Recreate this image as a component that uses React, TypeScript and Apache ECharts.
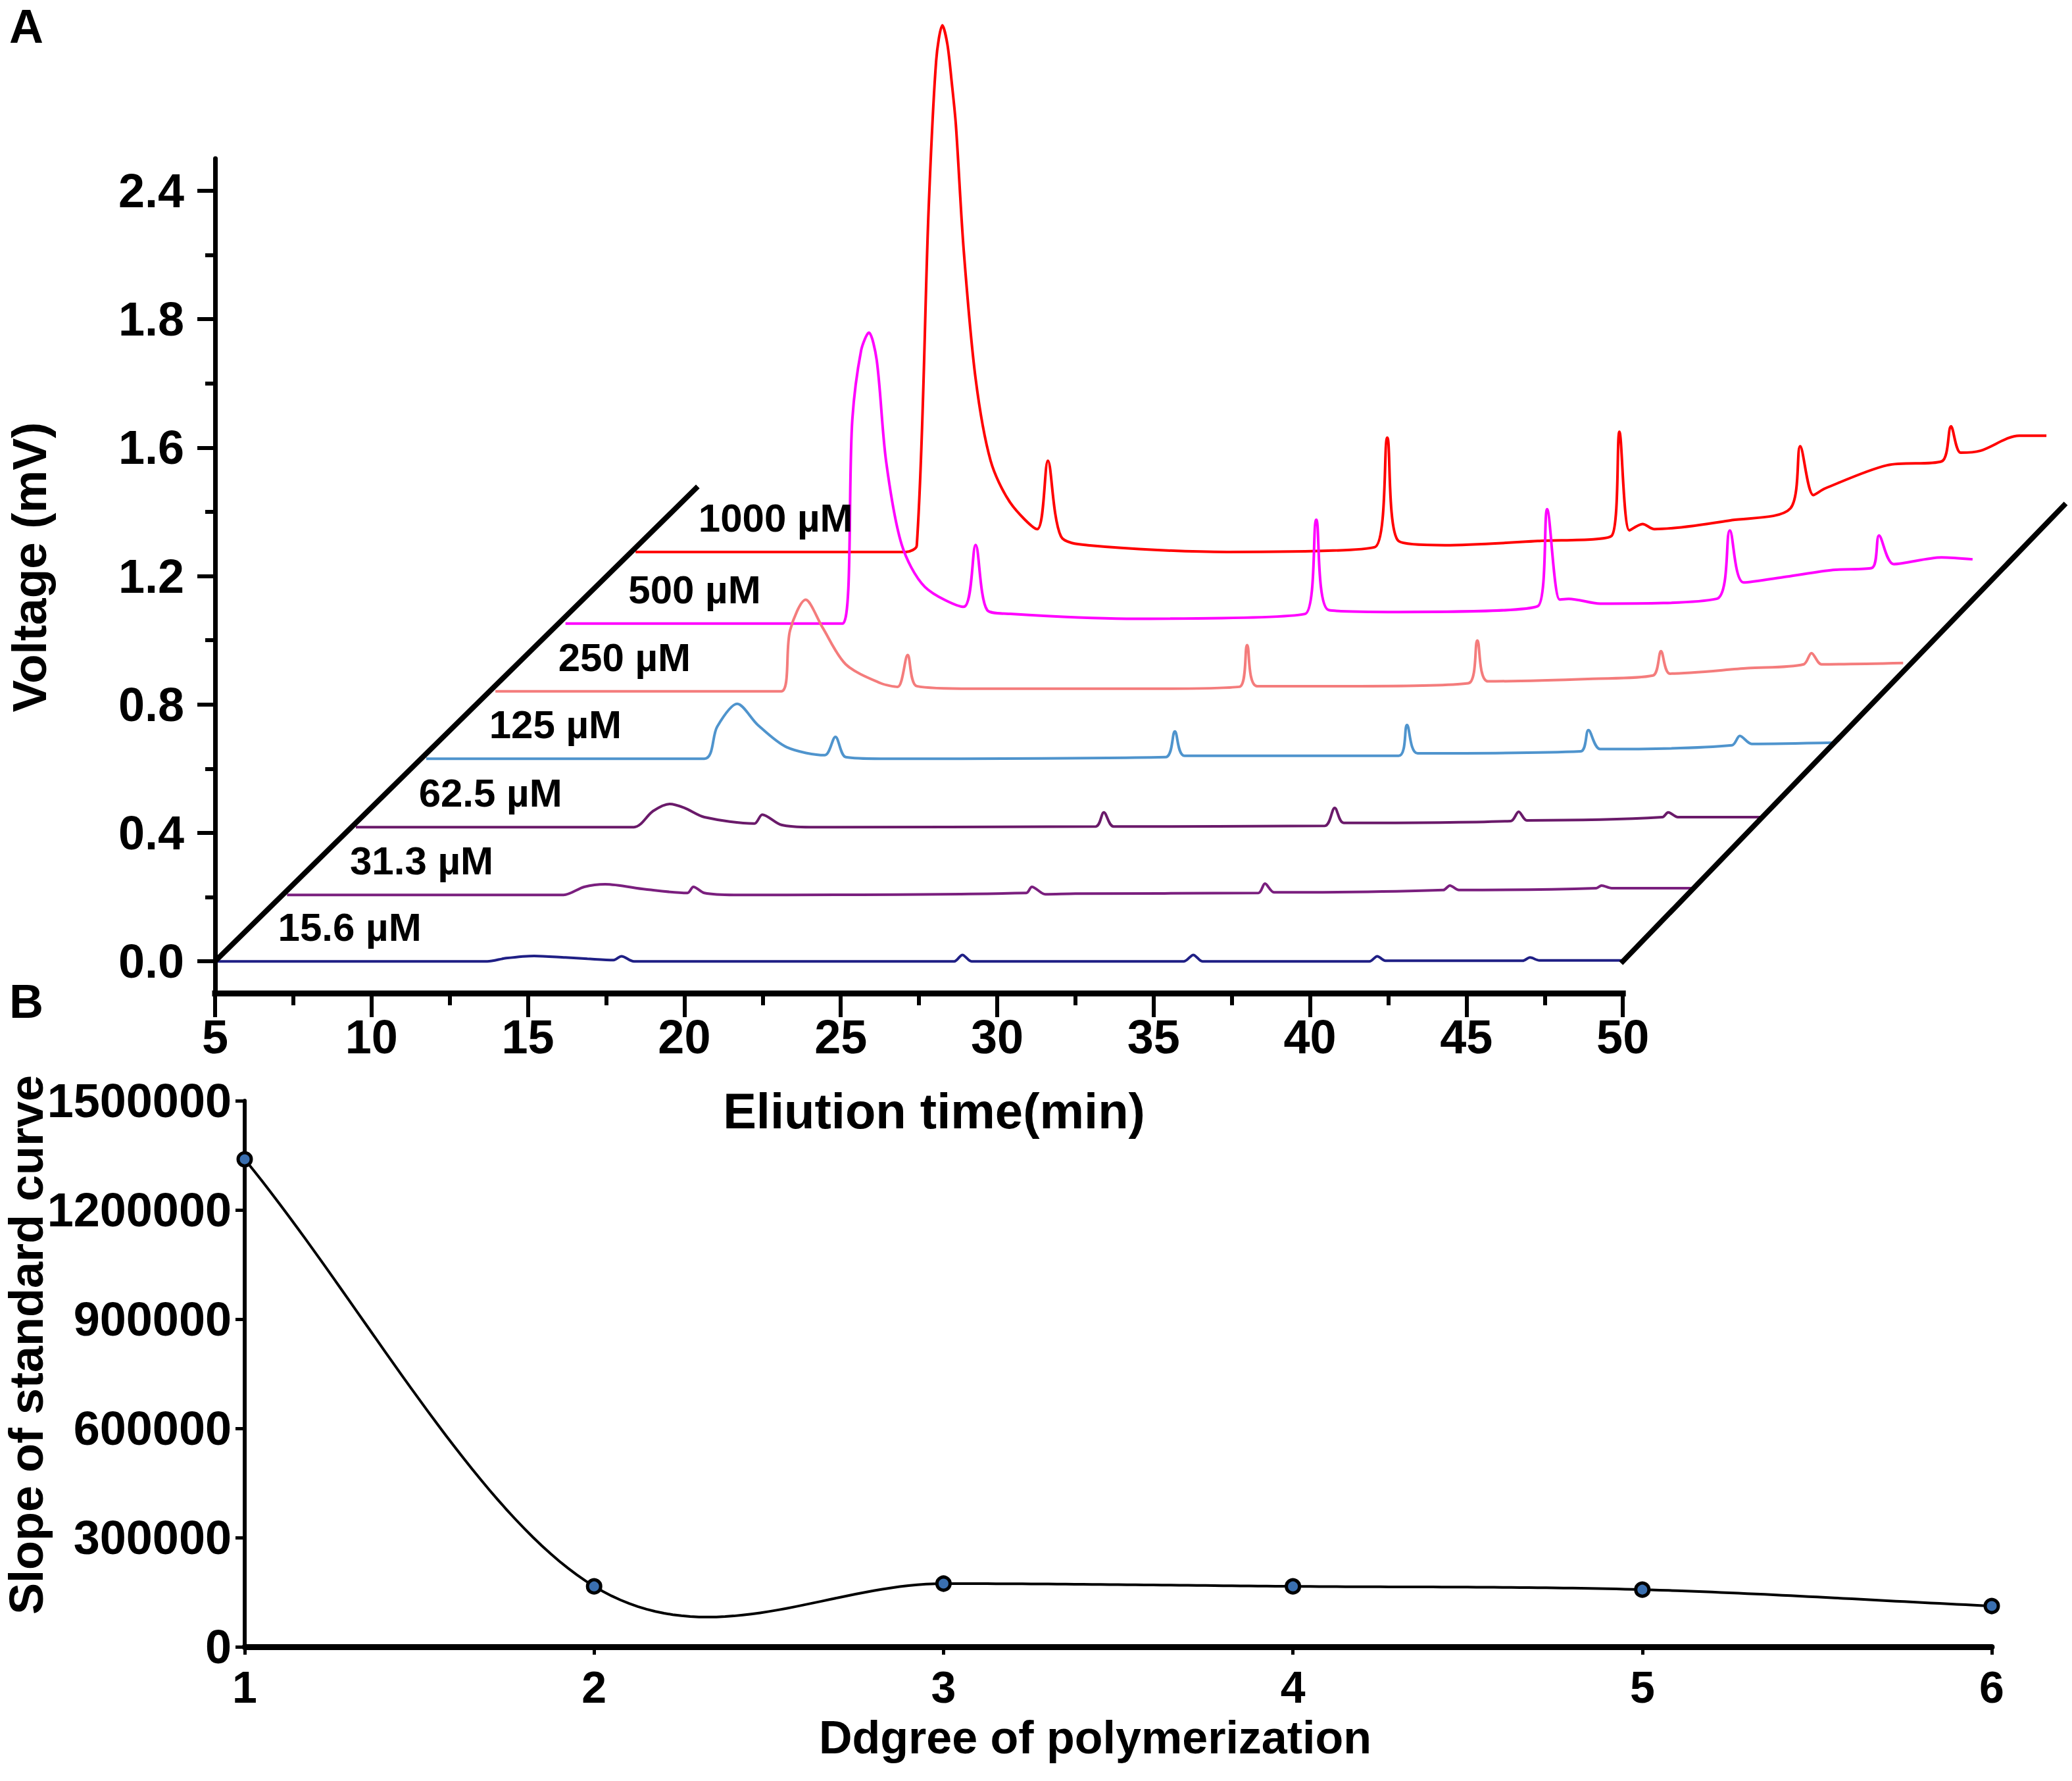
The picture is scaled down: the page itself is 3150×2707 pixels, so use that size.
import React, { useEffect, useRef } from "react";
import * as echarts from "echarts";

// ---------- Panel A data (own elution time, voltage above each trace's baseline) ----------
const seriesNames = ["15.6 µM", "31.3 µM", "62.5 µM", "125 µM", "250 µM", "500 µM", "1000 µM"];
const seriesColors = ["#1f1f85", "#7a1f7e", "#6a1a6a", "#4f94cd", "#f47c7c", "#ff00ff", "#ff0000"];
// waterfall offsets (pseudo-3D depth) per trace
const xShift = [0, 2.3, 4.5, 6.75, 8.96, 11.2, 13.44];
const yBase = [0, 0.207, 0.418, 0.631, 0.841, 1.052, 1.275];

const trace156 = [
  [5, 0], [13.7, 0], [14.3, 0.01], [15.2, 0.017], [16.2, 0.012], [16.9, 0.008], [17.74, 0.004], [17.99, 0.016],
  [18.39, 0], [28.4, 0], [28.63, 0], [28.89, 0.02], [29.18, 0], [35.97, 0], [36.27, 0.02], [36.56, 0],
  [41.9, 0], [42.15, 0.016], [42.41, 0.002], [46.8, 0.002], [47.03, 0.012], [47.33, 0.003], [50, 0.003],
];
const trace313 = [
  [5, 0], [13.84, 0], [14.5, 0.025], [15.17, 0.033], [16.47, 0.017], [17.8, 0.006], [17.99, 0.025], [18.34, 0.006],
  [19.29, 0], [28.63, 0.006], [28.81, 0.025], [29.24, 0.002], [30.2, 0.004], [36.05, 0.006], [36.26, 0.035],
  [36.55, 0.008], [41.96, 0.015], [42.17, 0.029], [42.46, 0.015], [46.85, 0.021], [47.02, 0.029], [47.34, 0.021],
  [50, 0.021],
];
const trace625 = [
  [5, 0], [13.89, 0], [14.5, 0.05], [15.03, 0.072], [15.5, 0.06], [16.14, 0.031], [17.74, 0.011], [17.99, 0.039],
  [18.6, 0.007], [19.53, 0], [28.65, 0.002], [28.91, 0.046], [29.22, 0.002], [35.97, 0.004], [36.29, 0.06],
  [36.58, 0.013], [41.92, 0.019], [42.17, 0.048], [42.43, 0.021], [46.76, 0.031], [46.95, 0.046], [47.26, 0.031],
  [50, 0.031],
];
const trace125 = [
  [5, 0], [13.89, 0], [14.3, 0.1], [14.94, 0.171], [15.6, 0.105], [16.52, 0.036], [17.74, 0.011], [18.08, 0.068],
  [18.41, 0.005], [19.53, 0], [28.63, 0.005], [28.93, 0.085], [29.24, 0.009], [36.08, 0.009], [36.35, 0.105],
  [36.69, 0.017], [41.9, 0.023], [42.15, 0.089], [42.53, 0.03], [46.74, 0.042], [46.99, 0.071], [47.37, 0.046],
  [50, 0.05],
];
const trace250 = [
  [5, 0], [14.14, 0], [14.42, 0.19], [14.92, 0.285], [15.45, 0.2], [16.2, 0.084], [17.32, 0.025], [17.86, 0.014],
  [18.18, 0.113], [18.47, 0.016], [20.22, 0.008], [25.92, 0.008], [28.78, 0.014], [29.03, 0.144], [29.35, 0.016],
  [32.63, 0.016], [36.1, 0.025], [36.39, 0.158], [36.73, 0.031], [40.07, 0.039], [42.0, 0.049], [42.26, 0.125],
  [42.55, 0.055], [45.03, 0.072], [46.82, 0.084], [47.07, 0.119], [47.39, 0.084], [50, 0.088],
];
const trace500 = [
  [5, 0], [13.86, 0], [14.17, 0.636], [14.45, 0.85], [14.7, 0.906], [14.95, 0.82], [15.25, 0.505], [15.75, 0.245],
  [16.49, 0.114], [17.73, 0.052], [18.11, 0.245], [18.48, 0.042], [19.22, 0.03], [22.94, 0.015], [28.64, 0.03],
  [29.0, 0.323], [29.4, 0.042], [31.63, 0.036], [36.08, 0.054], [36.38, 0.356], [36.78, 0.075], [37.07, 0.077],
  [38.08, 0.062], [41.8, 0.077], [42.22, 0.29], [42.66, 0.128], [44.03, 0.146], [45.52, 0.167], [46.76, 0.173],
  [46.99, 0.274], [47.46, 0.185], [48.99, 0.206], [49.98, 0.2],
];
const trace1000 = [
  [5, 0], [13.64, 0], [13.99, 0.02], [14.37, 1.07], [14.61, 1.53], [14.81, 1.64], [14.97, 1.58], [15.11, 1.46],
  [15.24, 1.33], [15.49, 0.94], [15.87, 0.54], [16.35, 0.284], [16.98, 0.153], [17.84, 0.071], [18.18, 0.284],
  [18.6, 0.048], [19.46, 0.021], [23.92, 0.0], [28.63, 0.015], [29.03, 0.356], [29.39, 0.034], [30.88, 0.021],
  [33.84, 0.034], [36.2, 0.05], [36.45, 0.374], [36.77, 0.067], [37.19, 0.087], [37.57, 0.071], [40.05, 0.099],
  [41.92, 0.136], [42.23, 0.329], [42.65, 0.177], [43.03, 0.198], [45.01, 0.27], [46.75, 0.282], [47.05, 0.391],
  [47.36, 0.309], [47.99, 0.315], [49.23, 0.362], [50.1, 0.362],
];
const traces = [trace156, trace313, trace625, trace125, trace250, trace500, trace1000];
// where each trace's name sits (own time, height above baseline)
const labelAnchor = [7.0, 0.105];
// depth guide lines of the pseudo-3D frame
const leftDiagonal = [[5, 0], [20.37, 1.473]];
const rightDiagonal = [[50, 0], [64.1, 1.42]];

// x axis (elution time) ticks
const xAxisSpan = [5, 50];
const xTickValues = [5, 10, 15, 20, 25, 30, 35, 40, 45, 50];
const xMinorValues = [7.5, 12.5, 17.5, 22.5, 27.5, 32.5, 37.5, 42.5, 47.5];
// y axis (voltage) ticks, labels as printed
const yTickValues = [0, 0.4, 0.8, 1.2, 1.6, 2.0, 2.4];
const yTickLabels = ["0.0", "0.4", "0.8", "1.2", "1.6", "1.8", "2.4"];
const yMinorValues = [0.2, 0.6, 1.0, 1.4, 1.8, 2.2];

// ---------- Panel B data ----------
const dpDegree = [1, 2, 3, 4, 5, 6];
const dpSlope = [1339000, 166000, 173500, 166000, 157000, 112000];

const FONT = "'Liberation Sans', Arial, Helvetica, sans-serif";

function splinePoints(xs: number[], ys: number[], samples: number) {
  const n = xs.length;
  const m: number[] = [];
  for (let i = 0; i < n; i++) {
    if (i === 0) m.push((ys[1] - ys[0]) / (xs[1] - xs[0]));
    else if (i === n - 1) m.push((ys[n - 1] - ys[n - 2]) / (xs[n - 1] - xs[n - 2]));
    else m.push((ys[i + 1] - ys[i - 1]) / (xs[i + 1] - xs[i - 1]));
  }
  const out: number[][] = [];
  for (let i = 0; i < n - 1; i++) {
    const h = xs[i + 1] - xs[i];
    for (let s = 0; s <= samples; s++) {
      if (i > 0 && s === 0) continue;
      const t = s / samples;
      const t2 = t * t, t3 = t2 * t;
      const h00 = 2 * t3 - 3 * t2 + 1, h10 = t3 - 2 * t2 + t, h01 = -2 * t3 + 3 * t2, h11 = t3 - t2;
      const y = h00 * ys[i] + h10 * h * m[i] + h01 * ys[i + 1] + h11 * h * m[i + 1];
      out.push([xs[i] + t * h, y]);
    }
  }
  return out;
}

export default function App() {
  const ref = useRef<HTMLDivElement>(null);
  useEffect(() => {
    document.body.style.margin = "0";
    const chart = echarts.init(ref.current!, null, { renderer: "svg" });

    const traceSeries = traces
      .map((tr, k) => ({
        type: "line",
        xAxisIndex: 0,
        yAxisIndex: 0,
        name: seriesNames[k],
        data: tr.map(([t, v]) => [t + xShift[k], v + yBase[k]]),
        showSymbol: false,
        symbol: "none",
        clip: false,
        smooth: 0.3,
        z: 3,
        lineStyle: { color: seriesColors[k], width: 4 },
      }))
      .reverse();

    const labelSeries = {
      type: "scatter",
      xAxisIndex: 0,
      yAxisIndex: 0,
      clip: false,
      symbolSize: 1,
      itemStyle: { color: "rgba(0,0,0,0)", opacity: 1 },
      data: seriesNames.map((nm, k) => [labelAnchor[0] + xShift[k], labelAnchor[1] + yBase[k], nm]),
      label: {
        show: true,
        position: "right",
        distance: 0,
        formatter: (p: any) => p.value[2],
        fontFamily: FONT,
        fontSize: 60,
        fontWeight: "bold",
        color: "#000",
        opacity: 1,
      },
      z: 5,
    };

    const blackLine = (d: number[][], w: number) => ({
      type: "line",
      xAxisIndex: 0,
      yAxisIndex: 0,
      data: d,
      symbol: "none",
      clip: false,
      lineStyle: { color: "#000", width: w, cap: "square" },
      z: 4,
    });

    const curveSeries = {
      type: "custom",
      xAxisIndex: 3,
      yAxisIndex: 2,
      data: [[dpDegree[0], dpSlope[0]]],
      renderItem: (_params: any, api: any) => {
        const pts = splinePoints(dpDegree, dpSlope, 40).map((p) => api.coord(p));
        return {
          type: "polyline",
          shape: { points: pts },
          style: { stroke: "#000", lineWidth: 4, fill: null },
        };
      },
      z: 3,
    };

    const markerSeries = {
      type: "scatter",
      xAxisIndex: 3,
      yAxisIndex: 2,
      data: dpDegree.map((d, i) => [d, dpSlope[i]]),
      symbol: "circle",
      symbolSize: 20,
      itemStyle: { color: "#3a6fb0", borderColor: "#000", borderWidth: 5, opacity: 1 },
      z: 4,
    };

    const axisText = { fontFamily: FONT, fontWeight: "bold", color: "#000" };
    const X_MAX_A = 64.2;

    const option: any = {
      animation: false,
      backgroundColor: "#fff",
      grid: [
        // panel A plot area
        { left: 327, right: 7.5, top: 241, bottom: 1197, containLabel: false, outerBoundsMode: "none" },
        // panel B plot area
        { left: 372, right: 122, top: 1673, bottom: 204, containLabel: false, outerBoundsMode: "none" },
        // strip carrying panel A's time axis (same horizontal scale as panel A)
        { left: 327, right: 7.5, top: 1400, bottom: 1197, containLabel: false, outerBoundsMode: "none" },
      ],
      xAxis: [
        {
          type: "value",
          gridIndex: 0,
          min: 5,
          max: X_MAX_A,
          show: false,
        },
        {
          type: "value",
          gridIndex: 2,
          position: "bottom",
          min: 5,
          max: X_MAX_A,
          axisLine: { show: false, onZero: false },
          axisTick: { show: true, inside: false, customValues: xTickValues, length: 36, lineStyle: { color: "#000", width: 6 } },
          axisLabel: { ...axisText, fontSize: 72, margin: 36, lineHeight: 60, customValues: xTickValues },
          splitLine: { show: false },
        },
        {
          type: "value",
          gridIndex: 2,
          position: "bottom",
          min: 5,
          max: X_MAX_A,
          axisLine: { show: false, onZero: false },
          axisTick: { show: true, inside: false, customValues: xMinorValues, length: 18, lineStyle: { color: "#000", width: 6 } },
          axisLabel: { show: false, customValues: xMinorValues },
          splitLine: { show: false },
        },
        {
          type: "value",
          gridIndex: 1,
          min: 1,
          max: 6,
          interval: 1,
          axisLine: { show: true, onZero: false, lineStyle: { color: "#000", width: 9 } },
          axisTick: { show: true, length: 12, lineStyle: { color: "#000", width: 5 } },
          axisLabel: { ...axisText, fontSize: 68, margin: 31, lineHeight: 60, formatter: (v: number) => String(v) },
          splitLine: { show: false },
        },
      ],
      yAxis: [
        {
          type: "value",
          gridIndex: 0,
          min: -0.1,
          max: 2.5,
          axisLine: { show: true, onZero: false, lineStyle: { color: "#000", width: 7 } },
          axisTick: { show: true, customValues: yTickValues, length: 27, lineStyle: { color: "#000", width: 6 } },
          axisLabel: {
            ...axisText,
            fontSize: 72,
            margin: 47,
            customValues: yTickValues,
            formatter: (v: number) => {
              const i = yTickValues.findIndex((t) => Math.abs(t - v) < 1e-6);
              return i >= 0 ? yTickLabels[i] : "";
            },
          },
          splitLine: { show: false },
        },
        {
          type: "value",
          gridIndex: 0,
          position: "left",
          min: -0.1,
          max: 2.5,
          axisLine: { show: false, onZero: false },
          axisTick: { show: true, customValues: yMinorValues, length: 15, lineStyle: { color: "#000", width: 6 } },
          axisLabel: { show: false, customValues: yMinorValues },
          splitLine: { show: false },
        },
        {
          type: "value",
          gridIndex: 1,
          min: 0,
          max: 1500000,
          interval: 300000,
          axisLine: { show: true, onZero: false, lineStyle: { color: "#000", width: 6 } },
          axisTick: { show: true, length: 14, lineStyle: { color: "#000", width: 5 } },
          axisLabel: { ...axisText, fontSize: 72, margin: 20, formatter: (v: number) => String(v) },
          splitLine: { show: false },
        },
        {
          type: "value",
          gridIndex: 2,
          min: 1,
          max: 2,
          show: false,
        },
      ],
      graphic: [
        { type: "text", left: 14, top: 4, style: { text: "A", fill: "#000", fontSize: 72, fontWeight: "bold", fontFamily: FONT } },
        { type: "text", left: 14, top: 1486, style: { text: "B", fill: "#000", fontSize: 72, fontWeight: "bold", fontFamily: FONT } },
        {
          type: "text",
          x: 44,
          y: 862,
          rotation: Math.PI / 2,
          style: { text: "Voltage (mV)", fill: "#000", fontSize: 73, fontWeight: "bold", fontFamily: FONT, align: "center", verticalAlign: "middle" },
        },
        {
          type: "text",
          x: 1420,
          y: 1688,
          style: { text: "Eliution time(min)", fill: "#000", fontSize: 76, fontWeight: "bold", fontFamily: FONT, align: "center", verticalAlign: "middle", lineHeight: 64 },
        },
        {
          type: "text",
          x: 40,
          y: 2044,
          rotation: Math.PI / 2,
          style: { text: "Slope of standard curve", fill: "#000", fontSize: 72, fontWeight: "bold", fontFamily: FONT, align: "center", verticalAlign: "middle" },
        },
        {
          type: "text",
          x: 1665,
          y: 2641,
          style: { text: "Ddgree of polymerization", fill: "#000", fontSize: 70, fontWeight: "bold", fontFamily: FONT, align: "center", verticalAlign: "middle", lineHeight: 60 },
        },
      ],
      series: [
        ...traceSeries,
        blackLine(leftDiagonal, 8),
        blackLine(rightDiagonal, 8),
        blackLine([[xAxisSpan[0], -0.1], [xAxisSpan[1], -0.1]], 9),
        labelSeries,
        curveSeries,
        markerSeries,
      ],
    };

    chart.setOption(option);
    return () => chart.dispose();
  }, []);

  return <div ref={ref} style={{ width: 3150, height: 2707 }} />;
}
